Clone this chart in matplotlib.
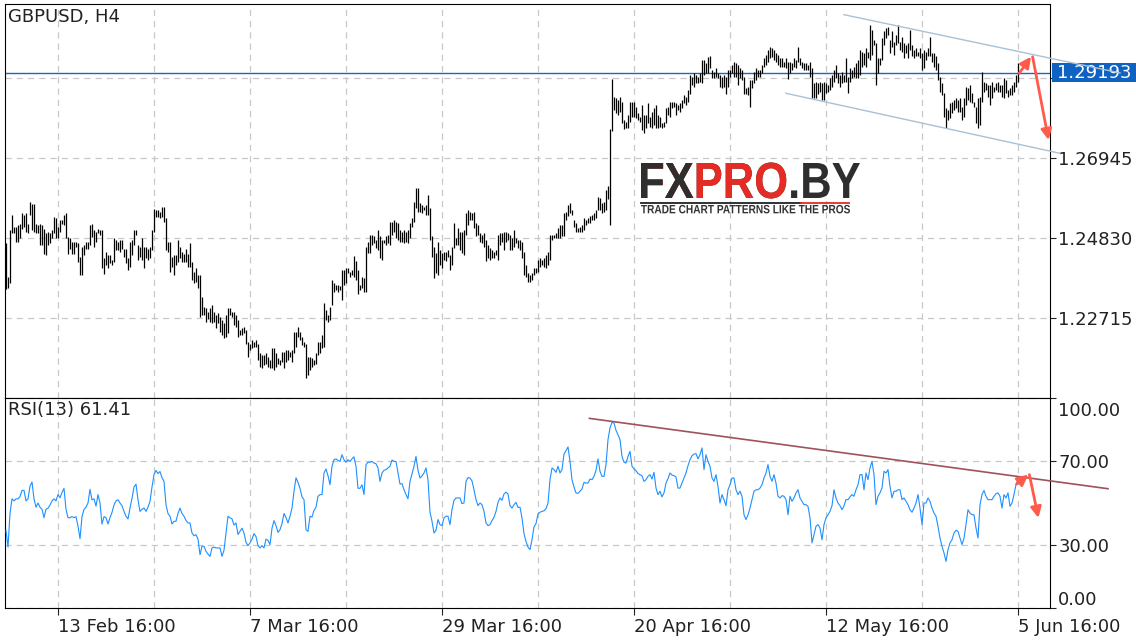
import matplotlib
matplotlib.use("Agg")
import matplotlib.pyplot as plt
import numpy as np
from matplotlib.lines import Line2D
from matplotlib.patches import PathPatch, Rectangle
from matplotlib.textpath import TextPath
from matplotlib.font_manager import FontProperties
from matplotlib.transforms import Affine2D, ScaledTranslation, blended_transform_factory

plt.rcParams['font.family'] = ['DejaVu Sans']

# GBPUSD H4 bars, high / low in pips (price x 10000)
high_pips = [
    12469, 12381, 12504, 12544, 12513, 12513, 12517, 12521, 12548, 12544,
    12548, 12521, 12579, 12574, 12574, 12521, 12517, 12521, 12517, 12508,
    12495, 12499, 12495, 12504, 12539, 12535, 12513, 12530, 12530, 12545,
    12548, 12486, 12482, 12473, 12473, 12473, 12469, 12433, 12460, 12464,
    12473, 12473, 12517, 12521, 12504, 12499, 12508, 12504, 12504, 12429,
    12447, 12438, 12438, 12425, 12482, 12477, 12473, 12477, 12477, 12455,
    12455, 12429, 12473, 12477, 12504, 12504, 12464, 12460, 12482, 12460,
    12460, 12455, 12460, 12504, 12561, 12557, 12557, 12552, 12566, 12566,
    12535, 12473, 12473, 12433, 12438, 12438, 12477, 12460, 12447, 12442,
    12455, 12442, 12469, 12420, 12394, 12403, 12385, 12385, 12328, 12301,
    12297, 12288, 12297, 12306, 12288, 12279, 12284, 12275, 12266, 12257,
    12279, 12297, 12297, 12288, 12288, 12279, 12266, 12240, 12244, 12248,
    12240, 12209, 12204, 12213, 12209, 12213, 12204, 12178, 12173, 12173,
    12178, 12169, 12160, 12191, 12191, 12178, 12165, 12160, 12182, 12182,
    12187, 12187, 12182, 12187, 12235, 12235, 12248, 12235, 12222, 12209,
    12204, 12169, 12169, 12165, 12160, 12178, 12209, 12209, 12226, 12310,
    12292, 12279, 12300, 12372, 12363, 12359, 12359, 12355, 12399, 12399,
    12403, 12403, 12394, 12399, 12436, 12421, 12399, 12359, 12381, 12377,
    12460, 12473, 12491, 12491, 12487, 12478, 12504, 12487, 12478, 12478,
    12487, 12491, 12526, 12526, 12531, 12526, 12522, 12504, 12500, 12504,
    12500, 12504, 12522, 12535, 12579, 12614, 12614, 12575, 12570, 12566,
    12570, 12597, 12562, 12487, 12460, 12443, 12473, 12451, 12443, 12447,
    12447, 12451, 12438, 12460, 12522, 12482, 12509, 12500, 12500, 12504,
    12548, 12557, 12553, 12548, 12553, 12522, 12518, 12495, 12491, 12495,
    12478, 12465, 12456, 12451, 12447, 12451, 12491, 12495, 12495, 12500,
    12500, 12495, 12491, 12482, 12504, 12482, 12478, 12478, 12473, 12447,
    12412, 12390, 12385, 12390, 12403, 12403, 12425, 12429, 12425, 12429,
    12438, 12447, 12491, 12491, 12491, 12495, 12509, 12518, 12518, 12548,
    12553, 12570, 12575, 12557, 12531, 12522, 12509, 12513, 12518, 12535,
    12531, 12535, 12540, 12544, 12548, 12557, 12592, 12588, 12575, 12579,
    12610, 12620, 12770, 12903, 12857, 12852, 12848, 12857, 12843, 12795,
    12791, 12808, 12843, 12843, 12843, 12830, 12813, 12804, 12835, 12808,
    12808, 12839, 12804, 12817, 12826, 12835, 12808, 12804, 12786, 12791,
    12826, 12830, 12843, 12843, 12843, 12839, 12835, 12839, 12848, 12861,
    12857, 12874, 12914, 12910, 12918, 12914, 12910, 12918, 12954, 12954,
    12945, 12962, 12964, 12927, 12923, 12932, 12918, 12914, 12910, 12914,
    12910, 12927, 12927, 12941, 12949, 12945, 12941, 12932, 12927, 12910,
    12879, 12883, 12901, 12901, 12923, 12932, 12927, 12927, 12941, 12958,
    12967, 12980, 12989, 12985, 12980, 12971, 12967, 12958, 12958, 12949,
    12958, 12949, 12949, 12945, 12958, 12954, 12989, 12958, 12949, 12945,
    12945, 12941, 12949, 12932, 12892, 12896, 12892, 12896, 12892, 12896,
    12892, 12888, 12905, 12914, 12927, 12940, 12918, 12914, 12923, 12914,
    12958, 12910, 12932, 12927, 12936, 12945, 12954, 12980, 12976, 12971,
    12985, 12976, 13046, 13033, 13007, 12998, 12958, 12958, 13011, 13029,
    13037, 13042, 13007, 13029, 13002, 13020, 13046, 13002, 13015, 12998,
    12993, 12998, 13033, 12993, 12980, 12985, 12976, 12985, 12971, 12980,
    12976, 12985, 13015, 12971, 12971, 12963, 12945, 12910, 12892, 12866,
    12826, 12821, 12839, 12843, 12848, 12852, 12848, 12852, 12830, 12852,
    12883, 12879, 12888, 12866, 12843, 12830, 12852, 12857, 12923, 12896,
    12892, 12888, 12888, 12896, 12883, 12892, 12896, 12888, 12888, 12905,
    12901, 12874, 12879, 12888, 12896, 12914, 12945,
]
low_pips = [
    12347, 12352, 12363, 12495, 12495, 12473, 12473, 12482, 12508, 12513,
    12499, 12495, 12544, 12504, 12499, 12495, 12495, 12464, 12464, 12442,
    12438, 12464, 12469, 12482, 12495, 12482, 12482, 12499, 12521, 12517,
    12482, 12442, 12455, 12442, 12442, 12460, 12420, 12385, 12385, 12438,
    12455, 12455, 12464, 12486, 12460, 12473, 12495, 12491, 12403, 12389,
    12411, 12403, 12416, 12411, 12420, 12451, 12451, 12447, 12455, 12433,
    12416, 12398, 12407, 12438, 12464, 12491, 12425, 12433, 12425, 12403,
    12429, 12425, 12429, 12451, 12499, 12539, 12539, 12535, 12539, 12526,
    12451, 12447, 12394, 12407, 12385, 12411, 12420, 12429, 12420, 12420,
    12420, 12407, 12407, 12372, 12363, 12367, 12350, 12275, 12279, 12279,
    12262, 12270, 12262, 12257, 12262, 12244, 12257, 12235, 12226, 12218,
    12222, 12231, 12279, 12275, 12253, 12248, 12222, 12226, 12226, 12231,
    12204, 12169, 12187, 12191, 12196, 12196, 12160, 12143, 12138, 12147,
    12151, 12143, 12138, 12138, 12134, 12143, 12151, 12147, 12156, 12138,
    12156, 12160, 12169, 12156, 12178, 12196, 12222, 12213, 12200, 12196,
    12113, 12120, 12134, 12143, 12147, 12151, 12173, 12178, 12191, 12196,
    12266, 12262, 12265, 12306, 12341, 12346, 12341, 12346, 12318, 12359,
    12363, 12390, 12381, 12385, 12381, 12372, 12335, 12346, 12350, 12341,
    12341, 12443, 12443, 12465, 12469, 12456, 12451, 12429, 12425, 12469,
    12465, 12469, 12465, 12491, 12500, 12482, 12478, 12473, 12473, 12469,
    12473, 12469, 12482, 12513, 12526, 12562, 12553, 12553, 12548, 12557,
    12544, 12544, 12478, 12434, 12377, 12390, 12385, 12412, 12403, 12425,
    12421, 12434, 12399, 12412, 12456, 12465, 12465, 12451, 12443, 12438,
    12491, 12518, 12531, 12531, 12509, 12487, 12491, 12473, 12469, 12460,
    12421, 12429, 12425, 12429, 12429, 12438, 12425, 12465, 12473, 12451,
    12473, 12478, 12451, 12451, 12460, 12469, 12456, 12451, 12429, 12385,
    12381, 12368, 12368, 12372, 12385, 12390, 12394, 12407, 12412, 12407,
    12403, 12412, 12425, 12478, 12482, 12482, 12482, 12482, 12487, 12487,
    12531, 12540, 12548, 12544, 12513, 12500, 12500, 12500, 12500, 12504,
    12518, 12522, 12522, 12531, 12531, 12535, 12557, 12557, 12548, 12553,
    12557, 12585, 12517, 12767, 12821, 12813, 12808, 12817, 12786, 12770,
    12773, 12773, 12791, 12804, 12804, 12799, 12795, 12791, 12769, 12760,
    12773, 12786, 12777, 12773, 12782, 12773, 12773, 12777, 12773, 12777,
    12786, 12808, 12804, 12826, 12830, 12808, 12821, 12817, 12826, 12839,
    12835, 12843, 12865, 12888, 12883, 12892, 12892, 12896, 12892, 12914,
    12918, 12918, 12932, 12905, 12905, 12910, 12905, 12883, 12879, 12883,
    12865, 12883, 12910, 12918, 12910, 12910, 12888, 12905, 12901, 12865,
    12865, 12861, 12830, 12879, 12892, 12901, 12910, 12910, 12918, 12936,
    12941, 12949, 12958, 12962, 12954, 12949, 12941, 12936, 12936, 12936,
    12932, 12903, 12918, 12927, 12936, 12932, 12949, 12941, 12932, 12927,
    12927, 12927, 12910, 12852, 12852, 12852, 12865, 12870, 12848, 12848,
    12866, 12870, 12874, 12883, 12896, 12905, 12892, 12883, 12892, 12896,
    12896, 12866, 12896, 12905, 12910, 12905, 12905, 12914, 12936, 12940,
    12936, 12958, 12954, 12967, 12993, 12888, 12918, 12940, 12954, 12993,
    13011, 13020, 12971, 12989, 12967, 12993, 12998, 12980, 12976, 12958,
    12971, 12958, 12980, 12963, 12958, 12963, 12963, 12958, 12927, 12932,
    12954, 12963, 12963, 12949, 12936, 12927, 12901, 12870, 12861, 12804,
    12773, 12795, 12799, 12813, 12821, 12826, 12817, 12817, 12795, 12804,
    12835, 12848, 12843, 12839, 12830, 12786, 12773, 12782, 12843, 12870,
    12874, 12857, 12835, 12852, 12870, 12874, 12870, 12870, 12857, 12852,
    12866, 12857, 12861, 12861, 12870, 12883, 12896,
]
rsi13 = [
    37, 29, 45, 52, 51, 52, 52, 53, 56, 56,
    51, 52, 58, 60, 52, 48, 50, 48, 47, 43,
    47, 47.5, 49, 51, 52, 51, 54, 52.5, 55, 57,
    47, 43, 43, 43.5, 43, 43.5, 39, 33, 43.5, 47,
    48, 50, 56.5, 51.5, 52, 48.5, 54, 50, 40, 43.5,
    43, 40, 43, 45.5, 49, 51, 51.5, 50, 48.7, 46,
    43.7, 42.4, 47.6, 52.2, 57.6, 59, 51.6, 46, 47, 47.6,
    46, 48, 50.8, 57.6, 63.5, 65.5, 64, 65, 62, 60.3,
    49.2, 45, 43.7, 40, 41.3, 41.3, 45, 47.6, 45, 43.7,
    41.7, 40.5, 40.5, 35.7, 34.4, 34.9, 32.8, 25.4, 29.4, 29.4,
    27, 25.7, 24.6, 28.6, 29, 28.6, 28.6, 28.6, 24.6, 27.5,
    35.7, 43.7, 42.9, 42.5, 39.5, 40.5, 35, 36.5, 38, 35.7,
    31.3, 29.7, 31, 32.8, 35.4, 34, 29.7, 28.6, 29.7, 28.6,
    32.8, 32.2, 30.2, 38, 41.6, 39.2, 36, 37.3, 40.2, 45,
    43, 40.5, 43.7, 47.6, 55.6, 62, 59.8, 57, 52.9, 51.6,
    37.3, 36.5, 43.7, 43.3, 46.5, 48, 53.2, 54, 54, 64.3,
    66.2, 63, 58.7, 67.5, 70.6, 71, 70.3, 69.8, 73, 70.6,
    69.4, 70.6, 69.8, 71, 72, 67.5, 57, 57, 58.7, 54,
    68.3, 69.4, 69.4, 69.8, 69, 68.7, 66.7, 60.3, 64.3, 65.6,
    65.9, 66.7, 67.5, 70.5, 69.8, 69.8, 64.3, 59, 59.2, 56.3,
    54, 52, 60.3, 64, 67.5, 72.2, 65.6, 61.9, 62.9, 64.3,
    66.7, 61.1, 45.6, 41.3, 35.7, 37, 42.1, 39.7, 39.2, 42.9,
    43.7, 43.7, 39.7, 46.8, 51.3, 52.4, 52.4, 52.4, 49.7, 50,
    60.3, 62.1, 61.9, 60.5, 56.3, 51.6, 48.7, 50, 49.2, 46,
    40.5, 39.2, 39.7, 41.6, 43.2, 46, 50.3, 52.4, 51.3, 54.3,
    55.2, 54.3, 48.7, 47.6, 49.2, 50.3, 47.9, 48, 42.9, 35.4,
    31.7, 29, 27.8, 32.5, 38.6, 40.2, 44.8, 45.6, 46, 46.3,
    47.3, 50, 61.1, 66.7, 65.9, 64.6, 67.5, 64.3, 65.9, 73.3,
    74.9, 76.7, 69.8, 61.1, 57.6, 54.8, 54.6, 55.6, 56.7, 59.8,
    59.5, 59.5, 61.4, 61.1, 62.7, 65.6, 71, 65.1, 62.7, 62.7,
    68.3, 80.2, 85.7, 88.4, 88.1, 84.6, 82.5, 80.2, 72.2, 69.4,
    69, 72.2, 74.6, 67.5, 66.3, 65.4, 64, 63.5, 63, 60.3,
    61.1, 62.7, 63.5, 61.4, 64.6, 57.1, 54, 55.6, 52.9, 54.8,
    59.5, 61.6, 64.3, 63.3, 63, 62.4, 57.1, 57.1, 59.5, 61.9,
    64.3, 67.8, 70.6, 72.5, 73.3, 73.5, 71, 73, 76.2, 65.9,
    73, 69.8, 67.5, 61.9, 60.3, 63.5, 57.9, 50, 54, 51.6,
    48.7, 56.3, 58.7, 61.9, 61.9, 56.3, 54, 55.6, 53.2, 44.4,
    42.1, 44.4, 47.6, 51.6, 55.6, 56.3, 56.3, 57.1, 58.7, 61.9,
    64.3, 68.3, 62.7, 60.3, 63.5, 59.5, 53.2, 52.4, 53.5, 53.2,
    51.6, 44.4, 53.2, 50.8, 52.4, 54.8, 56.3, 52.4, 50.8, 49.2,
    49.2, 48.4, 42.9, 31, 34.9, 38.9, 39.7, 38.1, 32.5, 39.7,
    42.9, 44.4, 46, 48.7, 56.3, 52.4, 50, 48.7, 46.8, 48.7,
    51.6, 51.6, 52.9, 54, 53.2, 56.3, 58.7, 63.5, 63.5, 56.3,
    64.3, 61.1, 66.7, 69.8, 63.5, 49.2, 53.2, 54.8, 57.1, 65.1,
    64.3, 65.9, 57.9, 52.4, 55.6, 55.6, 56.3, 56.3, 51.6, 52.4,
    50.8, 49.2, 46.8, 45.6, 47.6, 50, 54, 47.6, 39.7, 50,
    50, 52.4, 50.8, 47.6, 45.2, 43.7, 38.9, 33.3, 29.4, 26.2,
    22.2, 27.8, 31, 32.5, 35.7, 37, 36.5, 33.3, 30.2, 33.3,
    39.7, 46.8, 45.2, 44.4, 44.4, 38.1, 33.3, 49.2, 54, 56,
    53.2, 51.6, 51.6, 51.6, 53.2, 54.4, 54.8, 53.2, 47.6, 54,
    52.4, 54.8, 48.4, 50, 54, 58.7, 61.4,
]

tick_bars = [26, 122, 218, 314, 410, 506]
tick_labels = ["13 Feb 16:00", "7 Mar 16:00", "29 Mar 16:00",
               "20 Apr 16:00", "12 May 16:00", "5 Jun 16:00"]
grid_bars = [74, 170, 266, 362, 458]
price_ticks = [1.22715, 1.24830, 1.26945, 1.29060]
price_labels = ["1.22715", "1.24830", "1.26945", ""]
last_price = 1.29193
rsi_ticks = [0, 30, 70, 100]
rsi_labels = ["0.00", "30.00", "70.00", "100.00"]

# drawn annotations (bar index, value)
channel_upper = ([419, 557], [1.30734, 1.29195])
channel_lower = ([390, 527], [1.28656, 1.27069])
price_arrows = [((506.6, 1.29184), (512.5, 1.29623)),
                ((513.3, 1.29623), (521.3, 1.27420))]
rsi_trend = ([291.7, 551], [90.3, 56.8])
rsi_arrows = [((505.3, 59.0), (511.2, 63.5)),
              ((511.7, 63.5), (516.2, 42.9))]

W, H = 1136, 640
fig = plt.figure(figsize=(W / 100, H / 100), dpi=100)


def fx(px):
    return px / W


def fy(py):
    return 1 - py / H


ax = fig.add_axes([fx(5), fy(398), fx(1050) - fx(5), fy(4) - fy(398)])
axr = fig.add_axes([fx(5), fy(608), fx(1050) - fx(5), fy(398) - fy(608)], sharex=ax)

grid_kw = dict(color="#c8c8c8", linestyle=(0, (5, 4)), linewidth=0.9)
red = "#ff5a4a"
fs = 13

# price bars
n = len(high_pips)
idx = np.arange(n)
highs = np.array(high_pips) / 1e4
lows = np.array(low_pips) / 1e4
ax.vlines(idx, lows, highs, colors="black", linewidth=0.9, zorder=3)
ax.axhline(last_price, color="#1a66c2", linewidth=1.0, zorder=2)

ax.set_xlim(-0.5, 522)
ax.set_ylim(1.2060, 1.31017)
ax.set_xticks(tick_bars)
ax.set_xticks(grid_bars, minor=True)
ax.set_yticks(price_ticks)
ax.set_yticklabels(price_labels)
ax.yaxis.tick_right()
ax.grid(True, which="both", **grid_kw)
ax.tick_params(axis="x", which="both", length=0, labelbottom=False)
ax.tick_params(axis="y", direction="out", length=4, width=0.8, pad=2,
               labelsize=fs, colors="#222222")

ax.plot(*channel_upper, color="#a9c1d6", linewidth=1.0, clip_on=False, zorder=8)
ax.plot(*channel_lower, color="#a9c1d6", linewidth=1.0, clip_on=False, zorder=4)
for start, tip in price_arrows:
    ax.annotate("", xy=tip, xytext=start, annotation_clip=False, zorder=6,
                arrowprops=dict(arrowstyle="-|>", color=red, lw=2,
                                mutation_scale=16, shrinkA=0, shrinkB=0))

# current price box on the right scale
blend = blended_transform_factory(ax.transAxes, ax.transData)
px_price = (ax.get_ylim()[1] - ax.get_ylim()[0]) / 394
ax.add_patch(Rectangle((1.0 + 2 / 1045, last_price - 9.5 * px_price), 86 / 1045,
                       19 * px_price, transform=blend, fc="#0f62c2", ec="none",
                       clip_on=False, zorder=7))
tr = blend + ScaledTranslation(7 / 100, 0, fig.dpi_scale_trans)
ax.text(1.0, last_price, f"{last_price:.5f}", transform=tr, ha="left",
        va="center", color="white", fontsize=fs, clip_on=False, zorder=7.5)

# RSI panel
axr.plot(idx, rsi13, color="#1e90ff", linewidth=0.8, zorder=3)
axr.plot(*rsi_trend, color="#a0525a", linewidth=1.2, clip_on=False, zorder=4)
for start, tip in rsi_arrows:
    axr.annotate("", xy=tip, xytext=start, annotation_clip=False, zorder=6,
                 arrowprops=dict(arrowstyle="-|>", color=red, lw=2,
                                 mutation_scale=16, shrinkA=0, shrinkB=0))
axr.set_ylim(0, 100)
axr.set_yticks(rsi_ticks)
axr.set_yticklabels(rsi_labels)
axr.yaxis.tick_right()
axr.set_xticklabels(tick_labels)
axr.grid(True, which="both", **grid_kw)
axr.tick_params(axis="y", direction="out", length=4, width=0.8, pad=2,
                labelsize=fs, colors="#222222")
axr.tick_params(axis="x", which="major", direction="out", length=5, width=0.8,
                pad=2, labelsize=fs, colors="#222222")
axr.tick_params(axis="x", which="minor", length=0)
for lab in axr.get_xticklabels():
    lab.set_ha("left")
ylabs = axr.get_yticklabels()
ylabs[0].set_transform(ylabs[0].get_transform() + ScaledTranslation(0, 10 / 100, fig.dpi_scale_trans))
ylabs[-1].set_transform(ylabs[-1].get_transform() + ScaledTranslation(0, -11 / 100, fig.dpi_scale_trans))

for a in (ax, axr):
    for s in a.spines.values():
        s.set_color("black")
        s.set_linewidth(0.8)

fig.text(fx(8), fy(17), "GBPUSD, H4", fontsize=fs, va="center", color="#222222")
fig.text(fx(8), fy(410), "RSI(13) 61.41", fontsize=fs, va="center", color="#222222")


# watermark logo: text paths squeezed to the logo's box (pixel coordinates)
def logo_text(layers, x_left, x_right, baseline, cap_px):
    fp = FontProperties(family="Liberation Sans", weight="bold")
    full = TextPath((0, 0), layers[0][0], size=100, prop=fp)
    bb = full.get_extents()
    cap = TextPath((0, 0), "T", size=100, prop=fp).get_extents().height
    sx = (x_right - x_left) / bb.width
    sy = cap_px / cap
    trans = Affine2D().scale(sx, sy).translate(x_left - bb.x0 * sx, H - baseline)
    for s, col in layers:
        p = TextPath((0, 0), s, size=100, prop=fp)
        fig.add_artist(PathPatch(p, transform=trans, fc=col, ec="none", zorder=5))


logo_text([("FXPRO.BY", "#2e2e2e"), ("FXPRO", "#e52b23"), ("FX", "#2e2e2e")],
          641, 860, 198, 35)
fig.add_artist(Line2D([fx(641), fx(801)], [fy(202.5), fy(202.5)], color="#222222", lw=1.3))
fig.add_artist(Line2D([fx(801), fx(849)], [fy(202.5), fy(202.5)], color="#e52b23", lw=1.3))
logo_text([("TRADE CHART PATTERNS LIKE THE PROS", "#333333")], 641, 850, 213.3, 8.3)

fig.savefig("out.png", dpi=100, facecolor="white")
